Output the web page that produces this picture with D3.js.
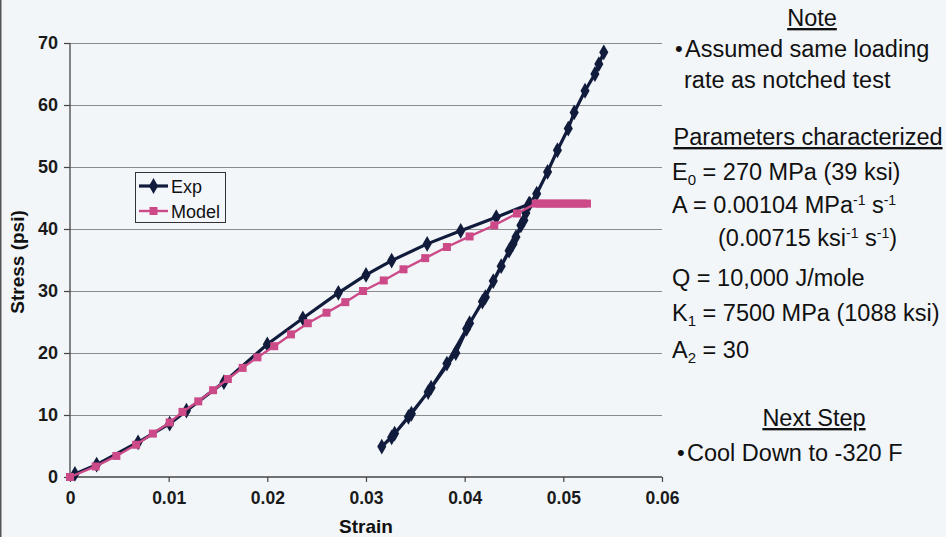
<!DOCTYPE html>
<html>
<head>
<meta charset="utf-8">
<script src="https://cdn.jsdelivr.net/npm/d3@7"></script>
<style>
  html, body { margin: 0; padding: 0; background: #f2f6f9; }
  svg { display: block; font-family: "Liberation Sans", Arial, sans-serif; }
</style>
</head>
<body>
<svg id="chart" width="946" height="537"></svg>
<script>
// Experimental stress-strain record: loading, unloading, then reloading
const expStrain = [
  0.0005, 0.0027, 0.0069, 0.0101, 0.0118, 0.0156, 0.0200, 0.0236, 0.0272, 0.0300,
  0.0326, 0.0362, 0.0396, 0.0432, 0.0465,
  0.0462, 0.0457, 0.0449, 0.0437, 0.0421, 0.0405, 0.0391, 0.0366, 0.0346, 0.0329, 0.0316,
  0.0326, 0.0343, 0.0363, 0.0382, 0.0402, 0.0418, 0.0429, 0.0445, 0.0452, 0.0460,
  0.0466, 0.0473, 0.0484, 0.0494, 0.0505, 0.0511, 0.0522, 0.0532, 0.0536, 0.0541
];
const expStress = [
  0.5, 2.0, 5.6, 8.6, 10.7, 15.3, 21.4, 25.6, 29.7, 32.6,
  34.9, 37.6, 39.7, 41.9, 44.0,
  42.6, 40.6, 37.6, 34.0, 29.0, 24.8, 20.0, 14.4, 10.2, 7.0, 4.9,
  6.4, 9.7, 13.7, 18.3, 23.9, 28.3, 31.6, 36.5, 38.7, 41.4,
  44.1, 45.7, 49.2, 52.7, 56.2, 58.8, 62.3, 65.0, 66.6, 68.5
];

// Model prediction
const modelStrain = [
  0, 0.0026, 0.0047, 0.0067, 0.0084, 0.0101, 0.0114, 0.0130, 0.0145, 0.0160,
  0.0175, 0.0190, 0.0207, 0.0224, 0.0241, 0.0260, 0.0279, 0.0297, 0.0318, 0.0338,
  0.0360, 0.0382, 0.0405, 0.0430, 0.0453,
  0.0472, 0.0476, 0.0480, 0.0484, 0.0488, 0.0492, 0.0496, 0.0500, 0.0504, 0.0508,
  0.0512, 0.0516, 0.0520, 0.0524
];
const modelStress = [
  0, 1.7, 3.4, 5.2, 7.0, 8.8, 10.5, 12.2, 14.0, 15.8,
  17.6, 19.3, 21.1, 23.0, 24.8, 26.5, 28.2, 30.0, 31.7, 33.5,
  35.3, 37.1, 38.8, 40.6, 42.5,
  44.1, 44.1, 44.1, 44.1, 44.1, 44.1, 44.1, 44.1, 44.1, 44.1,
  44.1, 44.1, 44.1, 44.1
];

const xTicks = [0, 0.01, 0.02, 0.03, 0.04, 0.05, 0.06];
const xTickLabels = ["0", "0.01", "0.02", "0.03", "0.04", "0.05", "0.06"];
const yTicks = [0, 10, 20, 30, 40, 50, 60, 70];

const seriesNames = ["Exp", "Model"];
const seriesColors = ["#111c3c", "#cc4a88"];

const svg = d3.select("#chart");
const plot = { left: 70, right: 662, top: 43, bottom: 477 };

const x = d3.scaleLinear().domain([0, 0.06]).range([plot.left, plot.right]);
const y = d3.scaleLinear().domain([0, 70]).range([plot.bottom, plot.top]);

// thin frame line at the left edge of the slide
svg.append("line").attr("x1", 0.75).attr("x2", 0.75).attr("y1", 0).attr("y2", 537)
  .attr("stroke", "#555").attr("stroke-width", 1.5);

// horizontal gridlines
svg.append("g")
  .attr("transform", `translate(${plot.left},0)`)
  .call(d3.axisLeft(y).tickValues(yTicks.slice(1)).tickSize(-(plot.right - plot.left)).tickFormat(""))
  .call(g => g.select(".domain").remove())
  .call(g => g.selectAll("line").attr("stroke", "#8a8d90").attr("stroke-width", 1));

// Y axis
const yAxis = svg.append("g")
  .attr("transform", `translate(${plot.left},0)`)
  .call(d3.axisLeft(y).tickValues(yTicks).tickSize(6).tickPadding(6).tickFormat(d3.format("d")));
yAxis.select(".domain").attr("stroke", "#444").attr("stroke-width", 1.3).attr("d", `M0,${plot.bottom}V${plot.top}`);
yAxis.selectAll("line").attr("stroke", "#444").attr("stroke-width", 1.2);
yAxis.selectAll("text").attr("font-size", 18).attr("font-weight", "bold").attr("fill", "#1a1a1a")
  .attr("font-family", "Liberation Sans, Arial, sans-serif");

// X axis
const xAxis = svg.append("g")
  .attr("transform", `translate(0,${plot.bottom})`)
  .call(d3.axisBottom(x).tickValues(xTicks).tickSize(5).tickPadding(10)
    .tickFormat((d, i) => xTickLabels[i]));
xAxis.select(".domain").attr("stroke", "#444").attr("stroke-width", 1.3).attr("d", `M${plot.left},0H${plot.right}`);
xAxis.selectAll("line").attr("stroke", "#444").attr("stroke-width", 1.2);
xAxis.selectAll("text").attr("font-size", 17.5).attr("font-weight", "bold").attr("fill", "#1a1a1a")
  .attr("font-family", "Liberation Sans, Arial, sans-serif");

// Axis titles
svg.append("text")
  .attr("transform", `translate(24,262) rotate(-90)`)
  .attr("text-anchor", "middle").attr("font-weight", "bold").attr("font-size", 19)
  .attr("fill", "#111").text("Stress (psi)");
svg.append("text")
  .attr("x", 366).attr("y", 533)
  .attr("text-anchor", "middle").attr("font-weight", "bold").attr("font-size", 19)
  .attr("fill", "#111").text("Strain");

// Series (model drawn last so it sits over the experiment)
const expData = expStrain.map((s, i) => [s, expStress[i]]);
const modelData = modelStrain.map((s, i) => [s, modelStress[i]]);
const line = d3.line().x(d => x(d[0])).y(d => y(d[1]));

const diamond = d3.symbol().type(d3.symbolDiamond).size(72);
const square = d3.symbol().type(d3.symbolSquare).size(64);

function drawSeries(data, color, sym, width) {
  const g = svg.append("g");
  g.append("path").datum(data).attr("d", line)
    .attr("fill", "none").attr("stroke", color).attr("stroke-width", width)
    .attr("stroke-linejoin", "round");
  g.selectAll("path.m").data(data).join("path").attr("class", "m")
    .attr("transform", d => `translate(${x(d[0])},${y(d[1])})`)
    .attr("d", sym).attr("fill", color);
}
drawSeries(expData, seriesColors[0], diamond, 3.2);
drawSeries(modelData, seriesColors[1], square, 2.4);

// Legend
const legend = svg.append("g");
legend.append("rect").attr("x", 135.5).attr("y", 172.5).attr("width", 90).attr("height", 50)
  .attr("fill", "#f4f7fa").attr("stroke", "#333").attr("stroke-width", 1);
const legendSyms = [diamond, square];
seriesNames.forEach((name, i) => {
  const ly = 186 + i * 25;
  legend.append("line").attr("x1", 139).attr("x2", 168).attr("y1", ly).attr("y2", ly)
    .attr("stroke", seriesColors[i]).attr("stroke-width", i === 0 ? 3.2 : 2.4);
  legend.append("path").attr("transform", `translate(153.5,${ly})`).attr("d", legendSyms[i])
    .attr("fill", seriesColors[i]);
  legend.append("text").attr("x", 171).attr("y", ly + 6.5).attr("font-size", 18)
    .attr("fill", "#111").text(name);
});

// Notes panel
const notes = svg.append("g").attr("fill", "#111").attr("font-size", 23.5);
function heading(txt, cx, yy) {
  notes.append("text").attr("x", cx).attr("y", yy).attr("text-anchor", "middle")
    .attr("text-decoration", "underline").text(txt);
}
function bullet(txt, xx, yy) {
  notes.append("text").attr("x", xx - 10).attr("y", yy - 1).attr("font-size", 22).text("•");
  notes.append("text").attr("x", xx).attr("y", yy).text(txt);
}
function rich(parts, xx, yy) {
  const t = notes.append("text").attr("x", xx).attr("y", yy);
  parts.forEach(p => {
    const s = t.append("tspan").text(p[0]);
    if (p[1] === "sub") s.attr("font-size", 15).attr("baseline-shift", "-5");
    if (p[1] === "sup") s.attr("font-size", 14).attr("baseline-shift", "8");
  });
}

heading("Note", 812, 26);
bullet("Assumed same loading", 685, 57);
notes.append("text").attr("x", 684).attr("y", 88).text("rate as notched test");
heading("Parameters characterized", 808, 145);
rich([["E"], ["0", "sub"], [" = 270 MPa (39 ksi)"]], 672, 180);
rich([["A = 0.00104 MPa"], ["-1", "sup"], [" s"], ["-1", "sup"]], 672, 213);
rich([["(0.00715 ksi"], ["-1", "sup"], [" s"], ["-1", "sup"], [")"]], 718, 246);
rich([["Q = 10,000 J/mole"]], 672, 286);
rich([["K"], ["1", "sub"], [" = 7500 MPa (1088 ksi)"]], 672, 321);
rich([["A"], ["2", "sub"], [" = 30"]], 672, 358);
heading("Next Step", 814, 426);
bullet("Cool Down to -320 F", 687, 461);
</script>
</body>
</html>
